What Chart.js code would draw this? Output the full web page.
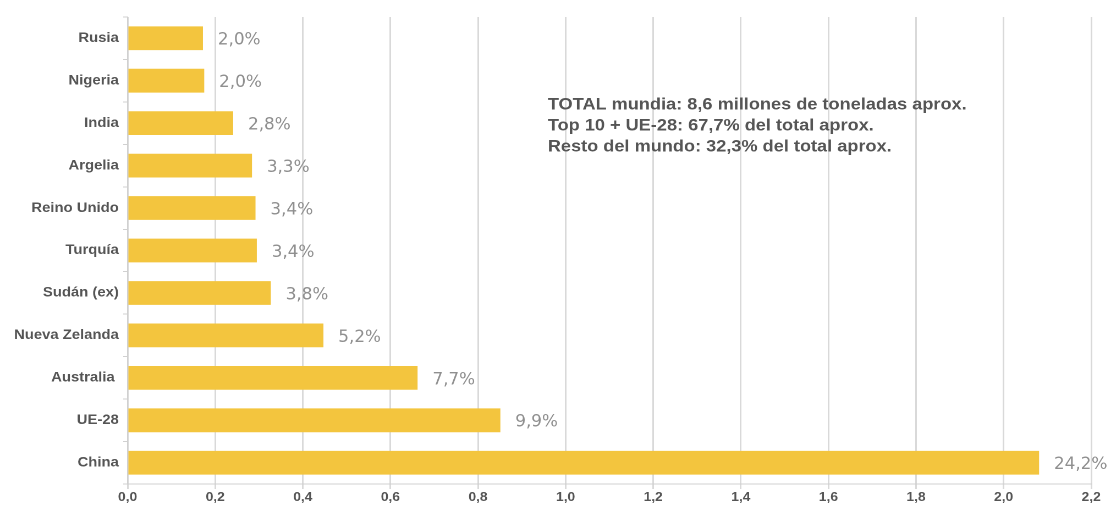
<!DOCTYPE html>
<html>
<head>
<meta charset="utf-8">
<script src="https://cdn.jsdelivr.net/npm/chart.js@4"></script>
<style>
  html, body { margin: 0; padding: 0; background: #fff; overflow: hidden; }
  /* el original esta estirado en horizontal, se estira el canvas igual */
  #wrap { width: 1006px; height: 519px; transform: scaleX(1.1); transform-origin: 0 0; }
</style>
</head>
<body>
<div id="wrap"><canvas id="myChart"></canvas></div>
<script>
// datos (millones de toneladas) y porcentajes del total
const paises = ["Rusia", "Nigeria", "India", "Argelia", "Reino Unido", "Turquía", "Sudán (ex)", "Nueva Zelanda", "Australia ", "UE-28", "China"]
const toneladas = [0.172, 0.175, 0.241, 0.284, 0.292, 0.295, 0.327, 0.447, 0.662, 0.851, 2.081]
const porcentajes = ["2,0%", "2,0%", "2,8%", "3,3%", "3,4%", "3,4%", "3,8%", "5,2%", "7,7%", "9,9%", "24,2%"]
const notas = [
  "TOTAL mundia: 8,6 millones de toneladas aprox.",
  "Top 10 + UE-28: 67,7% del total aprox.",
  "Resto del mundo: 32,3% del total aprox."
]

// etiquetas de porcentaje y texto de notas
const etiquetas = {
  id: 'etiquetas',
  afterDatasetsDraw(chart) {
    const ctx = chart.ctx
    const meta = chart.getDatasetMeta(0)
    ctx.save()
    ctx.font = '17px "DejaVu Sans Condensed", sans-serif'
    ctx.fillStyle = '#8f8f8f'
    ctx.textBaseline = 'middle'
    ctx.textAlign = 'left'
    meta.data.forEach((bar, i) => {
      ctx.fillText(porcentajes[i], bar.x + 13.5, bar.y + 2)
    })
    ctx.font = 'bold 16.5px "Liberation Sans", Arial, sans-serif'
    ctx.fillStyle = '#555'
    notas.forEach((t, i) => {
      ctx.fillText(t, 498, 105 + i * 21)
    })
    ctx.restore()
  }
}

const ctx = document.getElementById('myChart').getContext('2d')
const myChart = new Chart(ctx, {
  type: 'bar',
  data: {
    labels: paises,
    datasets: [{
      data: toneladas,
      backgroundColor: '#f3c53e',
      barPercentage: 0.56,
      categoryPercentage: 1
    }]
  },
  options: {
    indexAxis: 'y',
    responsive: true,
    maintainAspectRatio: false,
    animation: false,
    devicePixelRatio: 2,
    layout: { padding: { top: 17, right: 14, left: 0, bottom: 0 } },
    plugins: {
      legend: { display: false },
      tooltip: { enabled: false }
    },
    scales: {
      x: {
        min: 0,
        max: 2.2,
        ticks: {
          stepSize: 0.2,
          color: '#555',
          padding: 1,
          font: { family: '"Liberation Sans", Arial, sans-serif', size: 12.5, weight: 'bold' },
          callback: v => v.toFixed(1).replace('.', ',')
        },
        grid: { color: '#d9d9d9', lineWidth: 1.5, tickLength: 5 },
        border: { color: '#d0d0d0' },
        afterFit: s => { s.height = 35 }
      },
      y: {
        ticks: {
          color: '#555',
          padding: 4,
          font: { family: '"Liberation Sans", Arial, sans-serif', size: 13.5, weight: 'bold' }
        },
        grid: { drawOnChartArea: false, color: '#d0d0d0', tickLength: 4, offset: true },
        border: { color: '#d0d0d0' },
        afterFit: s => { s.width = 116 }
      }
    }
  },
  plugins: [etiquetas]
})
</script>
</body>
</html>
